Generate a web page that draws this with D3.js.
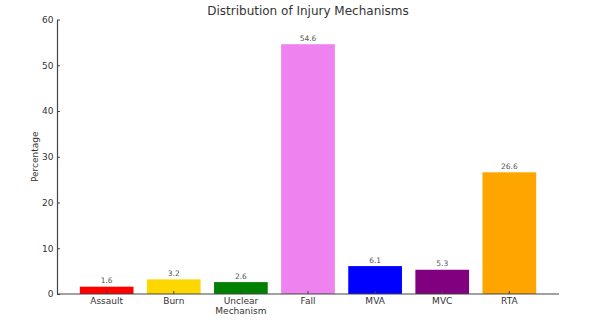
<!DOCTYPE html>
<html>
<head>
<meta charset="utf-8">
<script src="https://cdn.jsdelivr.net/npm/d3@7"></script>
<style>
  html, body { margin: 0; padding: 0; background: #fff; }
  svg { display: block; font-family: "DejaVu Sans", sans-serif; }
</style>
</head>
<body>
<svg id="chart" width="609" height="327"></svg>
<script>
// Injury mechanism shares (percent)
const categories = ["Assault", "Burn", "Unclear Mechanism", "Fall", "MVA", "MVC", "RTA"];
const percentages = [1.6, 3.2, 2.6, 54.6, 6.1, 5.3, 26.6];
const barColors = ["red", "gold", "green", "violet", "blue", "purple", "orange"];
const yTicks = [0, 10, 20, 30, 40, 50, 60];

const svg = d3.select("#chart");
const plot = { left: 57, right: 559, top: 19.5, bottom: 294 };
const textColor = "#333";
const axisColor = "#444";

const x = d3.scaleBand()
  .domain(categories)
  .range([plot.left, plot.right])
  .paddingInner(0.2)
  .paddingOuter(0.34);

const y = d3.scaleLinear()
  .domain([0, 60])
  .range([plot.bottom, plot.top]);

// Bars
svg.append("g").selectAll("rect")
  .data(categories)
  .join("rect")
  .attr("x", d => x(d))
  .attr("width", x.bandwidth())
  .attr("y", (d, i) => y(percentages[i]))
  .attr("height", (d, i) => y(0) - y(percentages[i]))
  .attr("fill", (d, i) => barColors[i]);

// Value labels above bars
svg.append("g").selectAll("text")
  .data(categories)
  .join("text")
  .attr("x", d => x(d) + x.bandwidth() / 2)
  .attr("y", (d, i) => y(percentages[i]) - 3.3)
  .attr("text-anchor", "middle")
  .attr("font-size", 7.5)
  .attr("fill", "#555")
  .text((d, i) => percentages[i].toFixed(1));

// Y axis (ticks pointing inward)
const yAxis = svg.append("g")
  .attr("transform", `translate(${plot.left},0)`)
  .call(d3.axisLeft(y).tickValues(yTicks).tickSizeInner(-3).tickSizeOuter(0).tickPadding(3.5));

// X axis (ticks pointing inward)
const xAxis = svg.append("g")
  .attr("transform", `translate(0,${plot.bottom})`)
  .call(d3.axisBottom(x).tickSizeInner(-3).tickSizeOuter(0).tickPadding(3.5));

xAxis.select(".domain").attr("d", `M${plot.left},0H${plot.right}`);

[yAxis, xAxis].forEach(g => {
  g.select(".domain").attr("stroke", axisColor).attr("stroke-width", 1.2);
  g.selectAll(".tick line").attr("stroke", axisColor);
  g.selectAll(".tick text")
    .attr("fill", textColor)
    .attr("font-size", 9)
    .attr("font-family", "DejaVu Sans, sans-serif");
});

// Wrap two-word labels onto two lines
xAxis.selectAll(".tick text").each(function (d) {
  const words = d.split(" ");
  if (words.length > 1) {
    const t = d3.select(this).text(null);
    words.forEach((w, i) => {
      t.append("tspan")
        .attr("x", 0)
        .attr("dy", i === 0 ? "0.71em" : "1.1em")
        .text(w);
    });
    t.attr("dy", null);
  }
});

// Title
svg.append("text")
  .attr("x", (plot.left + plot.right) / 2)
  .attr("y", 15)
  .attr("text-anchor", "middle")
  .attr("font-size", 12)
  .attr("fill", textColor)
  .text("Distribution of Injury Mechanisms");

// Y axis title
svg.append("text")
  .attr("transform", `translate(38,${(plot.top + plot.bottom) / 2}) rotate(-90)`)
  .attr("text-anchor", "middle")
  .attr("font-size", 9)
  .attr("fill", textColor)
  .text("Percentage");
</script>
</body>
</html>
